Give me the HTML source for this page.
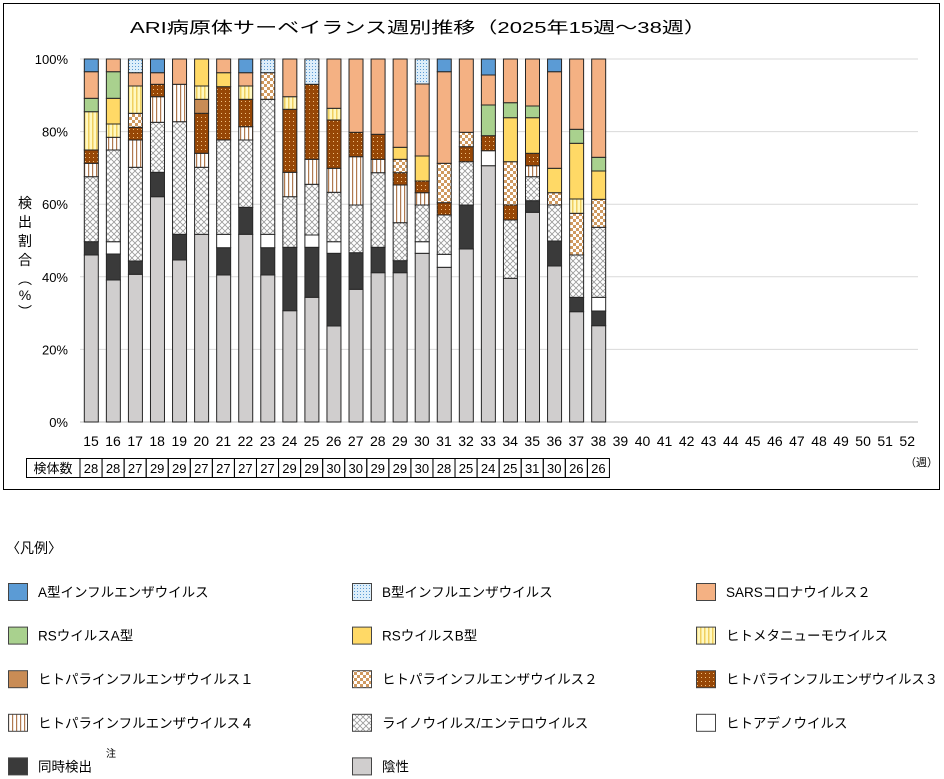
<!DOCTYPE html>
<html><head><meta charset="utf-8"><style>
html,body{margin:0;padding:0;background:#fff;width:944px;height:779px;overflow:hidden}
svg{display:block}
text{font-family:"Liberation Sans","Noto Sans CJK JP",sans-serif;fill:#000}
</style></head><body>
<svg id="s" width="944" height="779" xmlns="http://www.w3.org/2000/svg">
<defs>
<pattern id="pb" width="3" height="3" patternUnits="userSpaceOnUse"><rect width="3" height="3" fill="#ddeefa"/><rect width="1" height="1" fill="#5b9bd5"/></pattern>
<pattern id="pm" width="4" height="4" patternUnits="userSpaceOnUse"><rect width="4" height="4" fill="#fff8c0"/><rect width="1.5" height="4" fill="#f0d060"/></pattern>
<pattern id="p4" width="4" height="4" patternUnits="userSpaceOnUse"><rect width="4" height="4" fill="#fff"/><rect width="1.2" height="4" fill="#b07a50"/></pattern>
<pattern id="pp3" width="4" height="4" patternUnits="userSpaceOnUse"><rect width="4" height="4" fill="#974706"/><rect x="1" y="1" width="1" height="1" fill="#f0c080"/></pattern>
<pattern id="pp2" width="6" height="6" patternUnits="userSpaceOnUse"><rect width="6" height="6" fill="#fff"/><rect width="3" height="3" fill="#d09a60"/><rect x="3" y="3" width="3" height="3" fill="#d09a60"/></pattern>
<pattern id="px" width="6" height="6" patternUnits="userSpaceOnUse"><rect width="6" height="6" fill="#fff"/><path d="M0 0L6 6M6 0L0 6" stroke="#999" stroke-width="0.8"/></pattern>
</defs>
<rect x="3.5" y="3.5" width="936" height="486" fill="#fff" stroke="#000" stroke-width="1"/>
<text x="418" y="33" font-size="16" text-anchor="middle" textLength="576" lengthAdjust="spacingAndGlyphs">ARI病原体サーベイランス週別推移（2025年15週～38週）</text>
<g id="grid"></g>
<g id="bars"></g>
<g id="lab"></g>
<text x="905" y="466" font-size="11" fill="#333">（週）</text>
<g font-size="14">
<text x="25" y="208" text-anchor="middle">検</text>
<text x="25" y="227" text-anchor="middle">出</text>
<text x="25" y="246" text-anchor="middle">割</text>
<text x="25" y="265" text-anchor="middle">合</text>
<text x="25" y="284" text-anchor="middle">︵</text>
<text x="25" y="300" text-anchor="middle">%</text>
<text x="25" y="317" text-anchor="middle">︶</text>
</g>
<text x="6" y="553" font-size="14">〈凡例〉</text>
<g id="leg" font-size="13.5"></g>
</svg>
<script>
var NS="http://www.w3.org/2000/svg";
function el(p,t,a,txt){var e=document.createElementNS(NS,t);for(var k in a)e.setAttribute(k,a[k]);if(txt!=null)e.textContent=txt;document.getElementById(p).appendChild(e);return e;}
for(var i=0;i<=5;i++){var y=422-i*72.6;el('grid','line',{x1:80,x2:918,y1:y,y2:y,stroke:i==0?'#bbb':'#d9d9d9','stroke-width':1});
el('lab','text',{x:68,y:y+5,'font-size':13,'text-anchor':'end'},(i*20)+'%');}
for(var w=15;w<=52;w++){var cx=91+(w-15)*22.06;el('lab','text',{x:cx,y:446,'font-size':14,'text-anchor':'middle'},w);}
var F={g:'#d0cece',d:'#3a3a3a',w:'#fff',x:'url(#px)',v:'url(#p4)',p3:'url(#pp3)',p2:'url(#pp2)',p1:'#c98c55',m:'url(#pm)',rb:'#ffd966',ra:'#a9d18e',s:'#f4b183',b:'url(#pb)',a:'#5b9bd5'};
var D=[
"g255 d241.7 x176.7 v163.3 p3150 m111.7 ra98.3 s71.7 a59",
"g280 d254 w241.7 x150 v137.3 m124 rb98.3 ra71.7 s59",
"g274.3 d261 x167.3 v140 p3127.3 p2113.3 m86 s72.7 b59",
"g196.7 d172.3 x122.3 v96.7 p384.3 s72.7 a59",
"g260 d234.3 x121.7 v84.3 s59",
"g234.3 x167.3 v153.3 p3113.3 p199.3 m86 rb59",
"g275 d247.7 w234.3 x140 p386.7 rb72.7 s59",
"g234.3 d207.3 x140 v126.7 p399.3 m86 s72.7 a59",
"g275 d247.7 w234.3 x99.3 p272.7 b59",
"g310.7 d247.3 x196.7 v172.3 p3109.3 m96.7 s59",
"g297.3 d247.3 w235 x184.3 v159.3 p384.3 b59",
"g326 d253.3 w241.7 x192.3 v168.3 p3120 m108.3 s59",
"g289.3 d252.7 x205 v156.7 p3132.3 s59",
"g272.7 d247.3 x172.7 v159.3 p3134.3 s59",
"g272.7 d260.7 x222.7 v185 p3172.7 p2159.3 rb147.3 s59",
"g253.3 w241.7 x205 v192.7 p3181 rb156 s84 b59",
"g267.3 w254.3 x215 p3202.7 p2163.3 s71.7 a59",
"g249 d205 x161.7 p3146.7 p2132.3 s59",
"g165.7 w150.7 p3135.7 ra105 s75 a59",
"g278.3 x220 p3205 p2161.7 rb117.7 ra102.7 s59",
"g212.3 d200.7 x176.7 v165.7 p3153.3 rb117.7 ra106 s59",
"g266 d241 x205 p2192.7 rb168.3 s71.7 a59",
"g311.7 d297.3 x255 p2213.3 m199 rb143.3 ra129.3 s59",
"g325.7 d311 w297.3 x227.3 p2199.3 rb171 ra157.3 s59"];
var N=[28,28,27,29,29,27,27,27,27,29,29,30,30,29,29,30,28,25,24,25,31,30,26,26];
D.forEach(function(str,i){var x=84.3+i*22.06,bot=422;str.split(' ').forEach(function(t){var m=t.match(/^([a-z]+\d?)([\d.]+)$/);if(!/^(p1|p2|p3)/.test(t)){m=t.match(/^([a-z]+)([\d.]+)$/);}
var top=parseFloat(m[2]);el('bars','rect',{x:x,y:top,width:14,height:bot-top,fill:F[m[1]],stroke:'#262626','stroke-width':1});bot=top;});});
el('lab','rect',{x:26.5,y:458.5,width:53.5,height:19,fill:'#fff',stroke:'#000'});
el('lab','text',{x:53,y:473,'font-size':13,'text-anchor':'middle'},'検体数');
N.forEach(function(n,i){var x=80+i*22.06;el('lab','rect',{x:x,y:458.5,width:22.06,height:19,fill:'none',stroke:'#000'});el('lab','text',{x:x+11,y:473,'font-size':13,'text-anchor':'middle'},n);});
var L=[['a','A型インフルエンザウイルス'],['b','B型インフルエンザウイルス'],['s','SARSコロナウイルス２'],
['ra','RSウイルスA型'],['rb','RSウイルスB型'],['m','ヒトメタニューモウイルス'],
['p1','ヒトパラインフルエンザウイルス１'],['p2','ヒトパラインフルエンザウイルス２'],['p3','ヒトパラインフルエンザウイルス３'],
['v','ヒトパラインフルエンザウイルス４'],['x','ライノウイルス/エンテロウイルス'],['w','ヒトアデノウイルス'],
['d','同時検出'],['g','陰性']];
L.forEach(function(l,i){var c=i%3,r=Math.floor(i/3);var x=[8,352,696][c],y=583+r*43.6;
el('leg','rect',{x:x+0.5,y:y+0.5,width:19,height:17,fill:F[l[0]],stroke:'#444'});
var t=el('leg','text',{x:x+30,y:y+14},l[1]);
if(l[0]=='p3'){t.setAttribute('textLength',212);t.setAttribute('lengthAdjust','spacingAndGlyphs');}});
el('leg','text',{x:106,y:757,'font-size':10},'注');
</script>
</body></html>
